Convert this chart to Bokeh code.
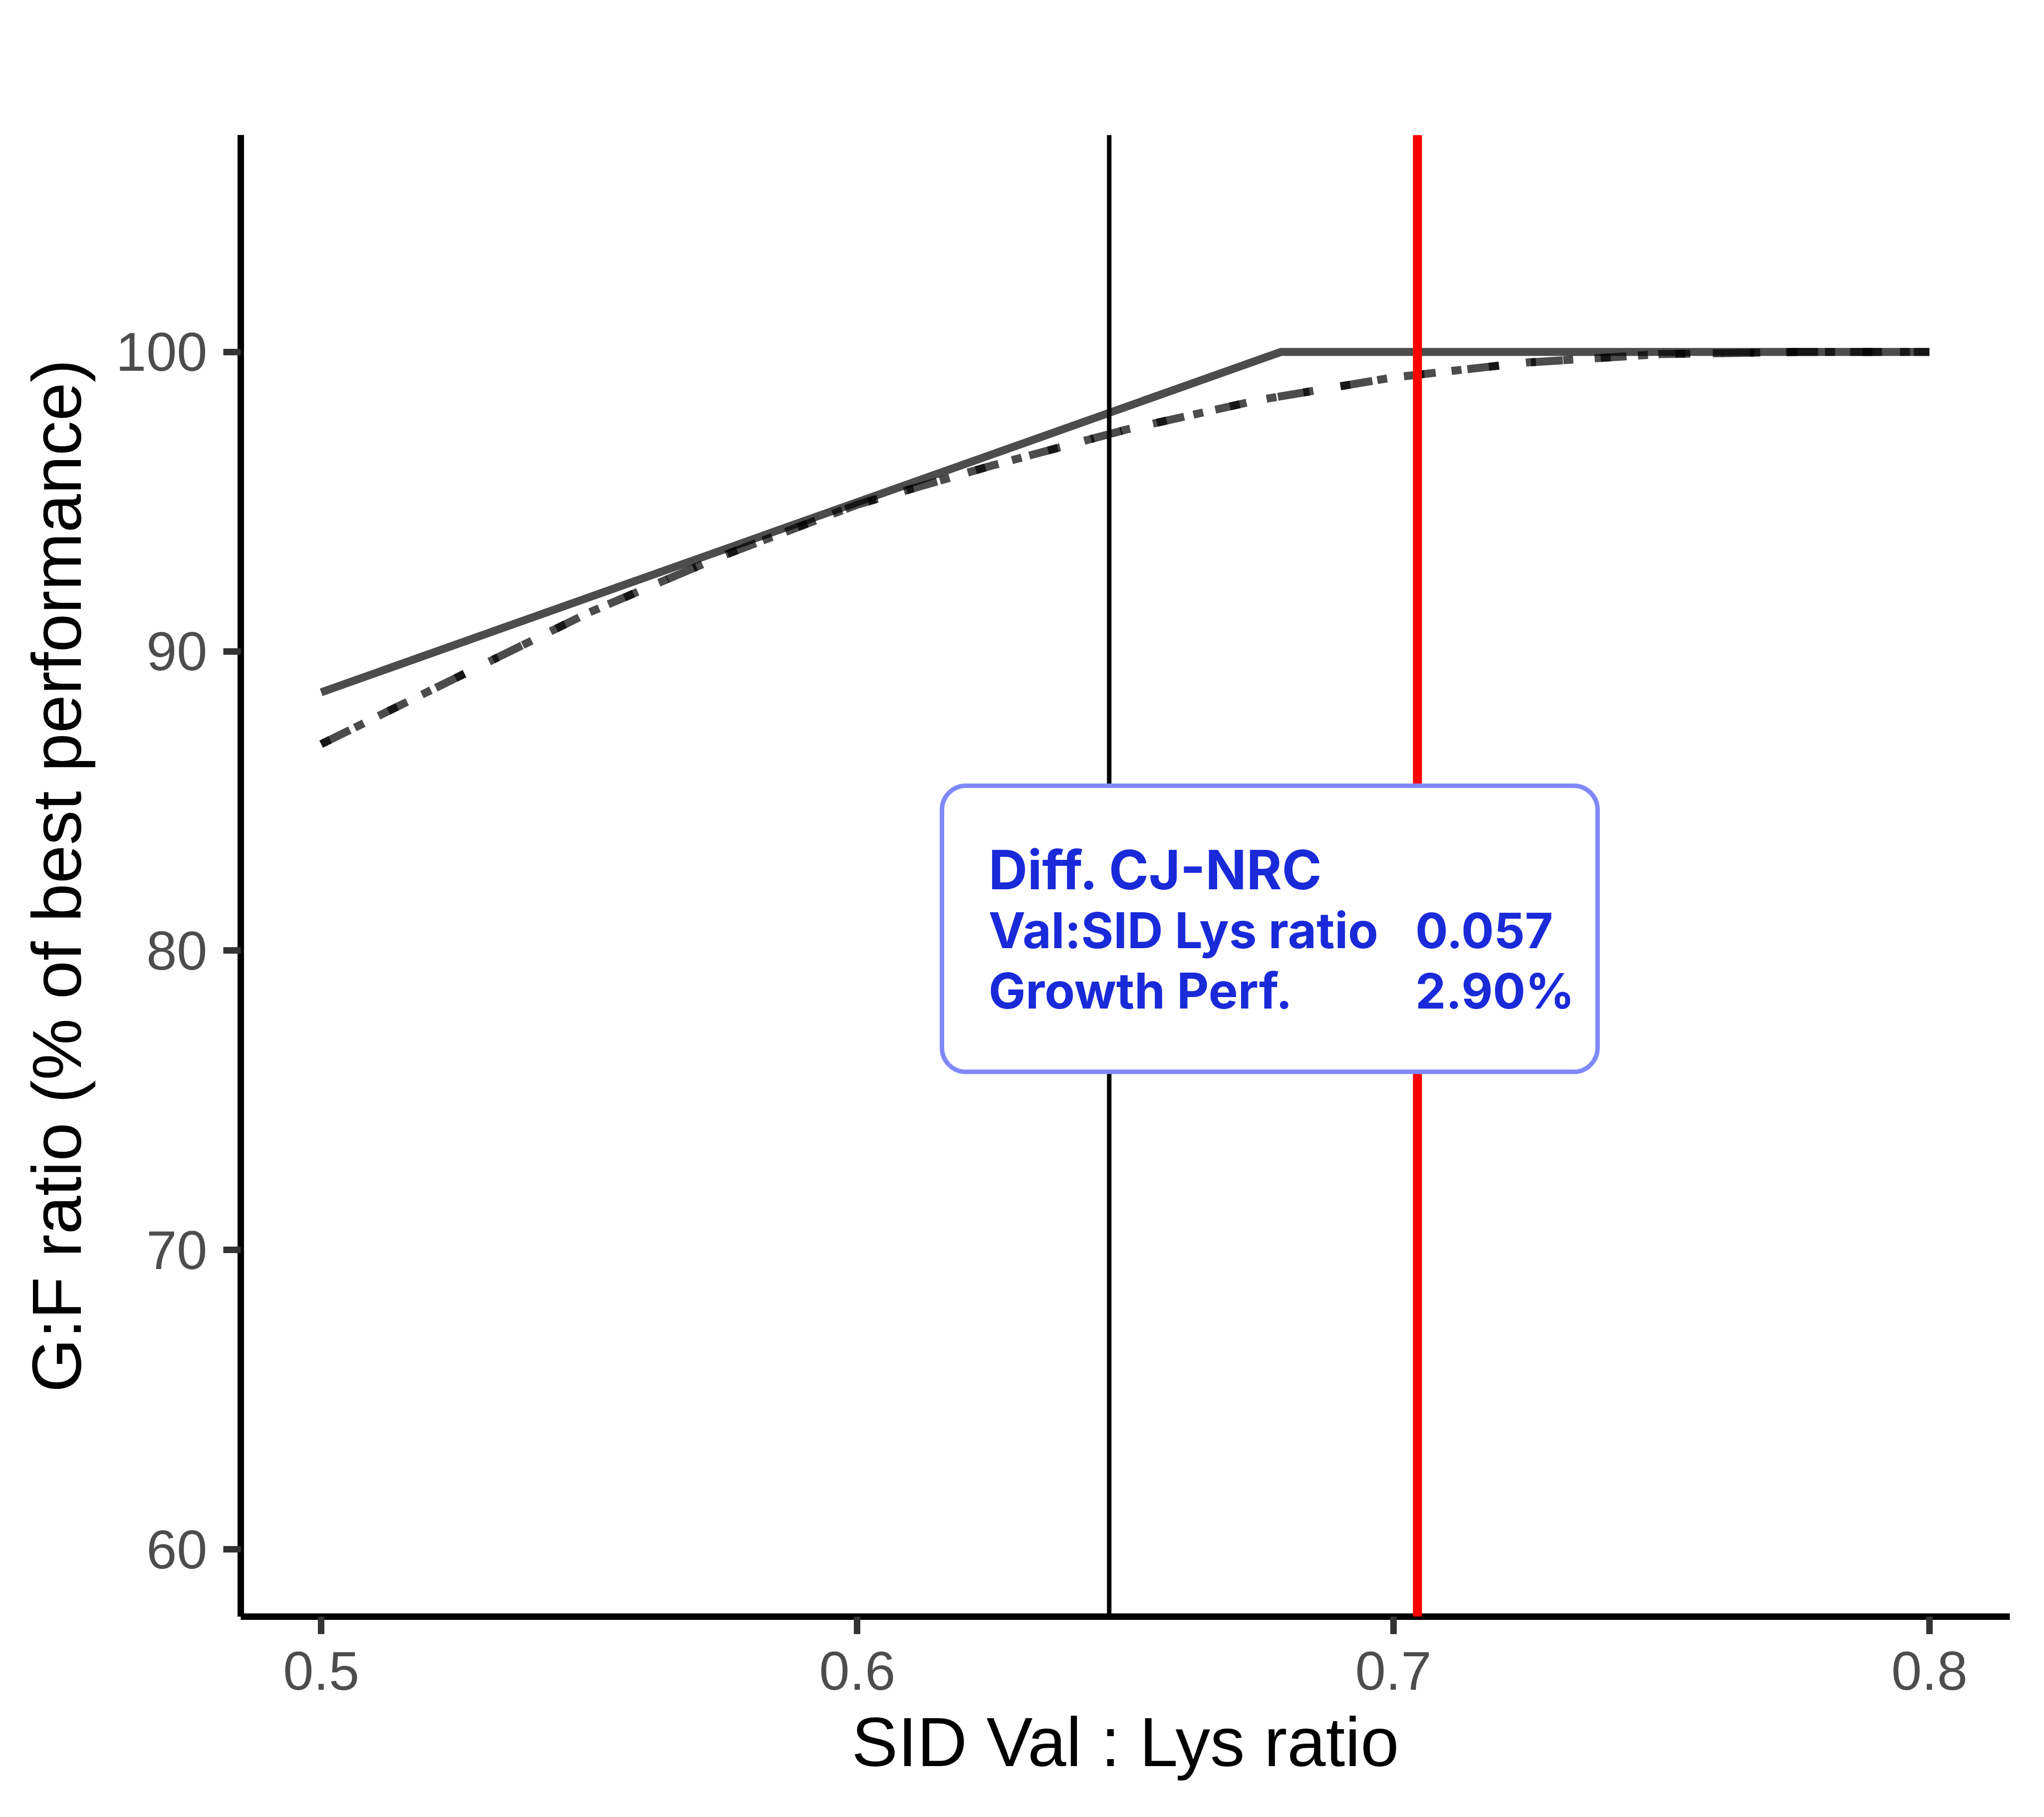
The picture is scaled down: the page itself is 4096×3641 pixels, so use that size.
from bokeh.plotting import figure
from bokeh.models import Range1d, FixedTicker, Span, BoxAnnotation, Label
from bokeh.embed import file_html
from bokeh.resources import INLINE

# ---- data ----
x_solid = [0.500, 0.679, 0.800]
y_solid = [88.63, 100.0, 100.0]

x_curve = [0.500, 0.525, 0.550, 0.575, 0.600, 0.625, 0.650, 0.675, 0.700, 0.725, 0.750, 0.775, 0.800]
y_curve_dashed = [86.9, 89.1, 91.3, 93.2, 94.9, 96.2, 97.4, 98.4, 99.15, 99.65, 99.93, 100.0, 100.0]
y_curve_dotted = [86.9, 89.1, 91.3, 93.2, 94.9, 96.2, 97.4, 98.4, 99.15, 99.65, 99.93, 100.0, 100.0]

vline_nrc = 0.647
vline_cj = 0.7045

x_ticks = [0.5, 0.6, 0.7, 0.8]
x_tick_labels = ["0.5", "0.6", "0.7", "0.8"]
y_ticks = [60, 70, 80, 90, 100]
y_tick_labels = ["60", "70", "80", "90", "100"]

box_title = "Diff. CJ-NRC"
box_rows = ["Val:SID Lys ratio", "Growth Perf."]
box_values = ["0.057", "2.90%"]

# ---- figure ----
p = figure(width=4080, height=3625, output_backend="svg", toolbar_location=None,
           x_range=Range1d(0.485, 0.815), y_range=Range1d(57.75, 107.25),
           min_border_left=482, min_border_right=53, min_border_top=270, min_border_bottom=386)
p.outline_line_color = None
p.grid.visible = False
p.background_fill_color = "white"
p.border_fill_color = "white"

for ax in (p.xaxis[0], p.yaxis[0]):
    ax.axis_line_color = "black"
    ax.axis_line_width = 13
    ax.major_tick_line_color = "#333333"
    ax.major_tick_line_width = 13
    ax.major_tick_out = 35
    ax.major_tick_in = 0
    ax.minor_tick_line_color = None
    ax.major_label_text_font = "Liberation Sans"
    ax.major_label_text_font_size = "110px"
    ax.major_label_text_color = "#4D4D4D"
    ax.axis_label_text_font = "Liberation Sans"
    ax.axis_label_text_font_size = "139px"
    ax.axis_label_text_font_style = "normal"
    ax.axis_label_text_color = "black"

p.xaxis.ticker = FixedTicker(ticks=x_ticks)
p.xaxis.major_label_overrides = {t: l for t, l in zip(x_ticks, x_tick_labels)}
p.yaxis.ticker = FixedTicker(ticks=y_ticks)
p.yaxis.major_label_overrides = {t: l for t, l in zip(y_ticks, y_tick_labels)}
p.xaxis.axis_label = "SID Val : Lys ratio"
p.yaxis.axis_label = "G:F ratio (% of best performance)"
p.xaxis.major_label_standoff = 35
p.yaxis.major_label_standoff = 32
p.xaxis.axis_label_standoff = 24
p.yaxis.axis_label_standoff = 38

# ---- curves ----
p.line(x_solid, y_solid, line_color="black", line_alpha=0.7, line_width=16, line_join="round")
p.line(x_curve, y_curve_dashed, line_color="black", line_alpha=0.7, line_width=16,
       line_dash="64 64")
p.line(x_curve, y_curve_dotted, line_color="black", line_alpha=0.7, line_width=16,
       line_dash="20 55")

# ---- vertical reference lines ----
p.add_layout(Span(location=vline_nrc, dimension="height", line_color="black", line_width=9))
p.add_layout(Span(location=vline_cj, dimension="height", line_color="#FF0000", line_width=18))

# ---- annotation box ----
p.add_layout(BoxAnnotation(left=0.6158, right=0.7381, bottom=75.95, top=85.51,
                           fill_color="white", fill_alpha=1.0,
                           line_color="#7F89FC", line_width=9, line_alpha=1.0,
                           border_radius=48))

txt_color = "#1A2AD8"
p.add_layout(Label(x=0.6245, y=82.71, text=box_title, text_font="Inter",
                   text_font_style="bold", text_font_size="108px", text_color=txt_color,
                   text_align="left", text_baseline="alphabetic"))
row_y = [80.68, 78.66]
for ry, r, v in zip(row_y, box_rows, box_values):
    p.add_layout(Label(x=0.6245, y=ry, text=r, text_font="Inter",
                       text_font_style="bold", text_font_size="99px", text_color=txt_color,
                       text_align="left", text_baseline="alphabetic"))
    p.add_layout(Label(x=0.7041, y=ry, text=v, text_font="Inter",
                       text_font_style="bold", text_font_size="97px", text_color=txt_color,
                       text_align="left", text_baseline="alphabetic"))

open("out.html", "w").write(file_html(p, INLINE))
